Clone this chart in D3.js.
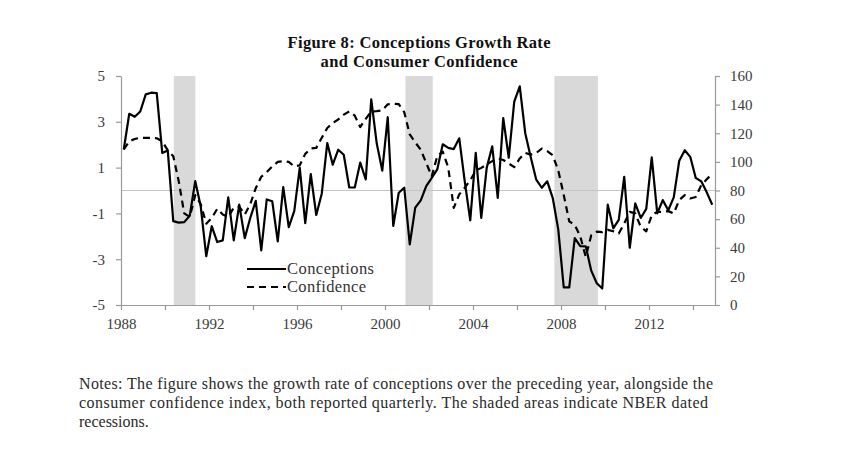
<!DOCTYPE html>
<html>
<head>
<meta charset="utf-8">
<script src="https://cdn.jsdelivr.net/npm/d3@7"></script>
<style>
  html, body { margin: 0; padding: 0; background: #fff; }
  svg { display: block; }
  text { font-family: "Liberation Serif", "DejaVu Serif", serif; }
</style>
</head>
<body>
<svg id="chart" width="850" height="456"></svg>
<script>
// ---- Data (quarterly, 1988Q1 .. 2014Q4) ----
const startYear = 1988;
const conceptions = [
  1.79, 3.35, 3.22, 3.45, 4.2, 4.27, 4.25, 1.64, 1.75, -1.34, -1.4, -1.38,
  -1.1, 0.41, -0.7, -2.87, -1.56, -2.25, -2.18, -0.3, -2.18, -0.62, -2.08, -1.2,
  -0.45, -2.62, -0.39, -0.47, -2.22, 0.15, -1.6, -0.9, 0.99, -1.43, 0.72, -1.07,
  -0.14, 2.07, 1.13, 1.78, 1.56, 0.13, 0.13, 1.22, 0.48, 3.98, 2.05, 0.87,
  3.2, -1.55, -0.1, 0.12, -2.35, -0.75, -0.43, 0.19, 0.55, 0.92, 2.02, 1.86,
  1.81, 2.28, 0.4, -1.3, 1.64, -1.2, 1.0, 1.93, -0.32, 3.16, 1.43, 3.88,
  4.55, 2.5, 1.45, 0.47, 0.12, 0.4, -0.33, -1.7, -4.23, -4.23, -2.08, -2.43,
  -2.44, -3.5, -4.05, -4.28, -0.62, -1.65, -1.28, 0.6, -2.5, -0.56, -1.2, -0.8,
  1.45, -1.0, -0.42, -0.86, -0.3, 1.3, 1.76, 1.47, 0.55, 0.4, -0.08, -0.62
];
const confidence = [
  108.8, 114.4, 116, 116.8, 116.8, 116.8, 116.5, 114.4, 108, 104, 86.4, 64,
  61.6, 76.8, 70.4, 56.8, 60.8, 67.2, 63.2, 61.6, 68, 68.8, 63.2, 70.4,
  81.6, 89.6, 92.8, 96.8, 100, 100.5, 100, 96.8, 97.6, 105.6, 109.3, 109.8,
  116.8, 123.7, 127.2, 129.6, 133, 135.2, 132.3, 124.3, 130.1, 135.2, 135.4, 136,
  140.2, 140.6, 140.3, 134.7, 119.2, 113.6, 108.5, 99.2, 89.9, 104, 107.2, 96,
  67.8, 77.3, 81.9, 87.2, 93.9, 95.8, 98.2, 100.5, 102.4, 101.3, 98.9, 96.3,
  102.4, 106.2, 105.1, 106.2, 109.3, 107.5, 104.6, 94.1, 76.8, 58.4, 56, 48,
  33.6, 48.8, 51.2, 50.9, 52.5, 51.5, 49.9, 57, 65.1, 64, 54.6, 51.5,
  62.7, 65.1, 65.1, 65.6, 64, 73.3, 76.8, 74.4, 75.5, 83.7, 87.8, 91.8
];
// quarter mid-points as decimal years (categories)
const quarters = d3.range(conceptions.length).map(i => startYear + (i + 0.5) / 4);

const recessionStart = [1990.40, 2000.93, 2007.70];
const recessionEnd   = [1991.38, 2002.17, 2009.68];

const leftTicks  = [-5, -3, -1, 1, 3, 5];
const rightTicks = [0, 20, 40, 60, 80, 100, 120, 140, 160];
const xTickYears  = [1988, 1990, 1992, 1994, 1996, 1998, 2000, 2002, 2004, 2006, 2008, 2010, 2012, 2014];
const xLabelYears = [1988, 1992, 1996, 2000, 2004, 2008, 2012];

const titleLines = ["Figure 8: Conceptions Growth Rate", "and Consumer Confidence"];
const notesLines = [
  "Notes: The figure shows the growth rate of conceptions over the preceding year, alongside the",
  "consumer confidence index, both reported quarterly. The shaded areas indicate NBER dated",
  "recessions."
];
const seriesNames = ["Conceptions", "Confidence"];

// ---- Layout ----
const svg = d3.select("#chart");
const L = 121, R = 715, T = 76, B = 305;

const x = d3.scaleLinear().domain([1988, 2015]).range([L, R]);
const yL = d3.scaleLinear().domain([-5, 5]).range([B, T]);
const yR = d3.scaleLinear().domain([0, 160]).range([B, T]);

const axisColor = "#9a9a9a";
const labelColor = "#3a3a3a";

// recession shading
svg.append("g").selectAll("rect")
  .data(recessionStart.map((s, i) => [s, recessionEnd[i]]))
  .join("rect")
  .attr("x", d => x(d[0]))
  .attr("width", d => x(d[1]) - x(d[0]))
  .attr("y", T)
  .attr("height", B - T)
  .attr("fill", "#d9d9d9");

// zero line
svg.append("line")
  .attr("x1", L).attr("x2", R)
  .attr("y1", yL(0)).attr("y2", yL(0))
  .attr("stroke", "#c4c4c4").attr("stroke-width", 1.2);

// axes
function styleAxis(g) {
  g.selectAll(".domain").attr("stroke", axisColor).attr("stroke-width", 1.2);
  g.selectAll(".tick line").attr("stroke", axisColor).attr("stroke-width", 1.2);
  g.selectAll(".tick text")
    .attr("fill", labelColor)
    .style("font-family", "'Liberation Serif', serif")
    .style("font-size", "15px");
}

const leftAxis = d3.axisLeft(yL).tickValues(leftTicks).tickSize(5).tickSizeOuter(0).tickPadding(11)
  .tickFormat(d => String(d));
svg.append("g").attr("transform", `translate(${L},0)`).call(leftAxis).call(styleAxis);

const rightAxis = d3.axisRight(yR).tickValues(rightTicks).tickSize(5).tickSizeOuter(0).tickPadding(10)
  .tickFormat(d => String(d));
svg.append("g").attr("transform", `translate(${R},0)`).call(rightAxis).call(styleAxis);

const bottomAxis = d3.axisBottom(x).tickValues(xTickYears).tickSize(5).tickSizeOuter(0)
  .tickFormat(d => xLabelYears.includes(d) ? String(d) : "").tickPadding(8);
svg.append("g").attr("transform", `translate(0,${B})`).call(bottomAxis).call(styleAxis);

// lines
const lineC = d3.line().x((d, i) => x(quarters[i])).y(d => yL(d));
const lineF = d3.line().x((d, i) => x(quarters[i])).y(d => yR(d));

svg.append("path").datum(confidence)
  .attr("d", lineF).attr("fill", "none")
  .attr("stroke", "#000").attr("stroke-width", 2.2)
  .attr("stroke-dasharray", "7,5")
  .attr("stroke-linejoin", "round");

svg.append("path").datum(conceptions)
  .attr("d", lineC).attr("fill", "none")
  .attr("stroke", "#000").attr("stroke-width", 2.2)
  .attr("stroke-linejoin", "round");

// legend
const legendWidths = [87, 79];
const legend = svg.append("g").attr("transform", "translate(247,269)");
seriesNames.forEach((name, i) => {
  const g = legend.append("g").attr("transform", `translate(0,${i * 18})`);
  g.append("line").attr("x1", 0).attr("x2", 39).attr("y1", 0).attr("y2", 0)
    .attr("stroke", "#000").attr("stroke-width", 2.2)
    .attr("stroke-dasharray", i === 1 ? "7,5" : null);
  g.append("text").attr("x", 40).attr("y", 5)
    .attr("fill", "#333").style("font-size", "16.5px")
    .attr("textLength", legendWidths[i]).attr("lengthAdjust", "spacing")
    .text(name);
});

// title
const titleWidths = [263, 197];
svg.append("g").selectAll("text").data(titleLines).join("text")
  .attr("x", 419).attr("y", (d, i) => 48 + i * 19)
  .attr("text-anchor", "middle")
  .attr("fill", "#111")
  .attr("textLength", (d, i) => titleWidths[i]).attr("lengthAdjust", "spacing")
  .style("font-size", "16.5px").style("font-weight", "bold")
  .text(d => d);

// notes
const notesWidths = [634, 629, null];
svg.append("g").selectAll("text").data(notesLines).join("text")
  .attr("x", 79).attr("y", (d, i) => 389 + i * 19)
  .attr("fill", "#2a2a2a")
  .attr("textLength", (d, i) => notesWidths[i])
  .attr("lengthAdjust", "spacing")
  .style("font-size", "16px")
  .text(d => d);
</script>
</body>
</html>
